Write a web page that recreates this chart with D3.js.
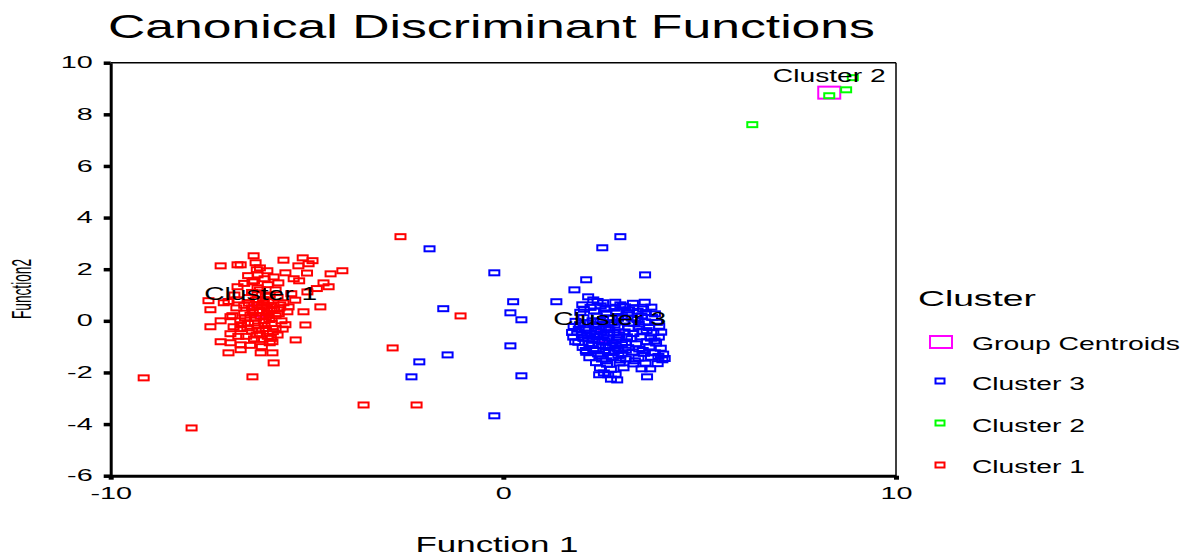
<!DOCTYPE html>
<html>
<head>
<meta charset="utf-8">
<script src="https://cdn.jsdelivr.net/npm/d3@7"></script>
<style>
  body { margin: 0; background: #fff; }
  svg { display: block; font-family: "Liberation Sans", Arial, sans-serif; }
</style>
</head>
<body>
<div id="chart"></div>
<script>
// discriminant scores, [function 1, function 2]
const cluster1 = [
  [-9.16, -2.21], [-7.94, -4.15], [-2.62, 3.26], [-1.09, 0.19], [-2.82, -1.05], [-3.56, -3.26], [-2.21, -3.26],
  [-6.36, 2.52], [-6.31, 2.25], [-7.2, 2.13], [-6.77, 2.17], [-6.69, 2.17], [-5.11, 2.44], [-4.86, 2.33],
  [-5.22, 2.13], [-4.96, 2.21], [-6.28, 1.98], [-6.01, 1.94], [-5.55, 1.86], [-4.1, 1.94], [-4.4, 1.82],
  [-6.26, 1.78], [-6.08, 1.63], [-5.34, 1.63], [-5.73, 1.47], [-6.39, 1.51], [-4.58, 1.47], [-4.45, 1.32],
  [-4.99, 1.12], [-6.77, 1.32], [-6.26, 1.28], [-7.51, 0.78], [-7.12, 0.7], [-6.77, 0.81], [-7.46, 0.43],
  [-4.66, 0.54], [-5.09, 0.35], [-5.47, 0.54], [-7.46, -0.23], [-6.95, 0.16], [-6.87, -0.23], [-5.04, -0.16],
  [-5.29, -0.74], [-7.2, -0.81], [-6.95, -0.85], [-6.69, -0.93], [-5.88, -0.81], [-7.0, -1.24], [-6.69, -1.12],
  [-6.18, -1.24], [-5.88, -1.24], [-5.85, -1.63], [-6.39, -2.17],
  [-6.5, 0.9], [-6.3, 0.8], [-6.1, 0.7], [-5.9, 0.6], [-5.7, 0.5], [-6.4, 0.5], [-6.2, 0.4], [-6.0, 0.3],
  [-5.8, 0.2], [-6.6, 0.3], [-6.3, 0.1], [-6.1, 0.0], [-5.9, -0.1], [-6.5, -0.1], [-6.7, -0.3], [-6.4, -0.4],
  [-6.2, -0.5], [-6.0, -0.6], [-5.8, -0.3], [-6.6, 0.6], [-6.8, 0.5], [-6.9, 0.2], [-6.7, 0.0], [-6.4, 1.1],
  [-6.2, 1.2], [-5.95, 1.0], [-5.75, 0.9], [-5.6, 0.7], [-5.5, 0.35], [-5.65, 0.0], [-6.05, -0.3], [-6.35, -0.7],
  [-6.55, -0.6], [-6.75, -0.6], [-5.95, -0.85], [-6.15, -1.0], [-6.45, -0.95], [-6.0, 1.4], [-6.35, 1.55],
  [-5.8, 1.2], [-5.4, 1.05], [-5.3, 0.8], [-5.9, 0.4], [-6.15, 0.55], [-6.05, 0.15], [-6.25, -0.2], [-5.75, -0.55],
  [-5.55, -0.15], [-7.0, 0.75], [-6.85, 1.0], [-6.95, -0.5], [-7.2, 0.0], [-6.6, 1.45], [-6.5, 1.75], [-6.2, 2.05],
  [-5.2, 1.55], [-5.0, 1.85], [-4.75, 1.25], [-5.6, 2.35], [-5.85, 1.7],
  [-6.12, 0.82], [-5.98, 0.74], [-5.84, 0.45], [-6.27, 0.63], [-6.44, 0.22], [-6.18, 0.18], [-5.96, 0.05],
  [-6.33, -0.08], [-6.08, -0.18], [-5.87, -0.42], [-6.23, -0.36], [-6.52, -0.27], [-6.02, 0.48], [-5.72, 0.28],
  [-6.38, 0.36], [-6.58, 0.12], [-6.15, -0.72], [-5.92, -0.68], [-6.28, -0.55], [-5.68, 0.62], [-6.48, 0.68],
  [-5.62, -0.32], [-6.68, -0.15], [-6.05, 0.95], [-6.26, 1.02]
];
const cluster2 = [[6.34, 7.6], [8.3, 8.72], [8.73, 8.95], [8.9, 9.42]];
const cluster3 = [
  [-1.88, 2.79], [-1.53, 0.47], [-0.23, 1.86], [0.25, 0.74], [0.18, 0.31], [0.46, 0.04], [-1.42, -1.32],
  [-2.14, -1.59], [-2.34, -2.17], [0.18, -0.97], [0.46, -2.13], [-0.23, -3.68], [1.35, 0.74], [1.81, 1.2],
  [2.11, 1.59], [2.52, 2.83], [2.98, 3.26], [3.61, 1.78],
  [2.16, 0.93], [2.29, 0.81], [2.01, 0.62], [2.54, 0.7], [2.98, 0.62], [3.1, 0.54], [4.05, -1.51], [3.74, -1.86],
  [3.66, -2.17], [2.9, -2.29], [2.67, -2.09], [2.44, -2.09],
  [2.22, 0.52], [2.48, 0.58], [2.83, 0.49], [3.04, 0.57], [3.31, 0.51], [3.56, 0.46], [3.77, 0.53],
  [1.96, 0.33], [2.31, 0.38], [2.62, 0.31], [2.88, 0.36], [3.17, 0.29], [3.42, 0.37], [3.63, 0.32], [3.86, 0.27],
  [2.04, 0.12], [2.38, 0.18], [2.71, 0.1], [3.02, 0.16], [3.27, 0.11], [3.52, 0.19], [3.79, 0.13],
  [1.84, -0.02], [2.16, -0.08], [2.47, -0.03], [2.76, -0.07], [3.06, -0.01], [3.33, -0.09], [3.61, -0.04], [3.91, -0.06],
  [1.79, -0.22], [2.08, -0.28], [2.36, -0.21], [2.61, -0.27], [2.92, -0.24], [3.19, -0.29], [3.46, -0.23], [3.71, -0.26], [3.97, -0.21],
  [1.88, -0.44], [2.21, -0.48], [2.49, -0.42], [2.81, -0.47], [3.09, -0.43], [3.31, -0.49], [3.54, -0.41], [3.82, -0.46], [4.02, -0.44],
  [1.78, -0.63], [2.04, -0.68], [2.37, -0.61], [2.66, -0.66], [2.94, -0.64], [3.26, -0.69], [3.49, -0.62], [3.76, -0.67], [3.96, -0.63],
  [1.91, -0.83], [2.19, -0.88], [2.52, -0.82], [2.79, -0.87], [3.11, -0.84], [3.38, -0.89], [3.66, -0.81], [3.89, -0.86],
  [2.02, -1.03], [2.29, -1.08], [2.61, -1.02], [2.91, -1.07], [3.18, -1.04], [3.46, -1.09], [3.72, -1.01], [4.01, -1.06],
  [2.11, -1.22], [2.41, -1.28], [2.69, -1.23], [3.01, -1.27], [3.29, -1.21], [3.58, -1.26], [3.86, -1.24], [4.07, -1.29],
  [2.19, -1.43], [2.51, -1.48], [2.79, -1.42], [3.12, -1.47], [3.44, -1.44], [3.76, -1.41], [4.11, -1.46],
  [2.36, -1.62], [2.64, -1.68], [2.96, -1.63], [3.31, -1.67], [3.62, -1.64], [3.93, -1.66],
  [2.46, -1.83], [2.74, -1.88], [3.06, -1.82], [3.52, -1.86], [2.56, -2.02], [2.86, -2.07], [2.74, -2.26],
  [2.4, 0.75], [2.85, 0.72], [3.3, 0.68], [3.6, 0.72], [2.3, -0.15], [2.55, -0.55], [2.7, -0.35], [2.45, -0.75],
  [2.85, -0.95], [2.6, -1.15], [2.25, -0.95], [2.15, -0.6], [1.95, -0.15], [2.0, -0.55],
  [2.12, -0.35], [2.42, -0.32], [2.57, -0.12], [2.83, -0.16], [2.33, -0.52], [2.65, -0.48], [2.95, -0.55],
  [2.27, -0.72], [2.58, -0.78], [2.88, -0.74], [3.15, -0.62], [2.42, -0.95], [2.72, -0.98], [3.02, -0.92],
  [2.35, -1.15], [2.82, -1.18], [3.12, -1.14], [2.48, -1.36], [2.93, -1.34], [2.62, -1.55], [2.98, -1.52],
  [1.92, -0.32], [1.83, -0.81], [2.05, 0.45], [2.6, 0.45], [3.2, 0.42], [3.45, -0.12], [3.65, -0.38],
  [3.85, -0.78], [3.55, -1.15], [3.95, -1.38], [1.75, -0.45], [2.1, -1.15], [3.35, -1.55], [2.27, 0.0],
  [2.54, 0.05], [2.92, 0.1], [3.42, 0.05]
];
const centroidNames = ["Cluster 1", "Cluster 3", "Cluster 2"];
const centroidX = [-6.18, 2.71, 8.3];
const centroidY = [0.39, -0.58, 8.84];
const xTicks = [-10, 0, 10];
const yTicks = [-6, -4, -2, 0, 2, 4, 6, 8, 10];
const legendNames = ["Group Centroids", "Cluster 3", "Cluster 2", "Cluster 1"];
const legendColors = ["#ff00ff", "#0000ff", "#00ff00", "#ff0000"];

const width = 1188, height = 556;
const svg = d3.select("#chart").append("svg").attr("width", width).attr("height", height);

const x = d3.scaleLinear().domain([-10, 10]).range([110.7, 896]);
const y = d3.scaleLinear().domain([-6, 10]).range([475.7, 62.7]);

// the original is stretched sideways, so text is scaled around its anchor
function stretch(sel, k) {
  sel.each(function () {
    const t = d3.select(this);
    const ax = +t.attr("x") || 0;
    t.attr("transform", `translate(${ax},0) scale(${k},1) translate(${-ax},0)`);
  });
}
function fitWidth(sel, w) {
  sel.each(function () {
    const len = this.getComputedTextLength();
    stretch(d3.select(this), w / len);
  });
}

// title
svg.append("text")
  .attr("x", 108).attr("y", 38)
  .style("font-size", "33px")
  .text("Canonical Discriminant Functions")
  .call(fitWidth, 767);

// frame: thin top/right, heavy axes
svg.append("line").attr("x1", x(-10)).attr("x2", x(10)).attr("y1", y(10)).attr("y2", y(10))
  .attr("stroke", "#000").attr("stroke-width", 1.5);
svg.append("line").attr("x1", x(10)).attr("x2", x(10)).attr("y1", y(10)).attr("y2", y(-6))
  .attr("stroke", "#000").attr("stroke-width", 1.5);

const plainNum = d => String(d);
const yAxis = svg.append("g")
  .attr("transform", `translate(${x(-10)},0)`)
  .call(d3.axisLeft(y).tickValues(yTicks).tickFormat(plainNum).tickSize(7).tickSizeOuter(0).tickPadding(11));
const xAxis = svg.append("g")
  .attr("transform", `translate(0,${y(-6)})`)
  .call(d3.axisBottom(x).tickValues(xTicks).tickFormat(plainNum).tickSize(4).tickSizeOuter(0).tickPadding(8));

[xAxis, yAxis].forEach(g => {
  g.select(".domain").attr("stroke-width", 3);
  g.selectAll(".tick line").attr("stroke-width", 3.5);
  g.selectAll(".tick text").attr("fill", "#000").style("font-size", "16px").call(stretch, 1.8);
});
xAxis.selectAll(".tick line").attr("stroke-width", 5);

// y title is squeezed along its length in the original
const yTitle = svg.append("text")
  .attr("x", 0).attr("y", 0)
  .attr("text-anchor", "middle")
  .style("font-size", "27px")
  .text("Function2");
const yLen = yTitle.node().getComputedTextLength();
yTitle.attr("transform", `translate(31,289) rotate(-90) scale(${60 / yLen},1)`);

svg.append("text")
  .attr("x", 497).attr("y", 552)
  .attr("text-anchor", "middle")
  .style("font-size", "22px")
  .text("Function 1")
  .call(fitWidth, 163);

// group centroids under the cases
const plot = svg.append("g");
plot.selectAll("rect.centroid")
  .data(centroidX.map((v, i) => [v, centroidY[i]]))
  .join("rect")
  .attr("class", "centroid")
  .attr("x", d => x(d[0]) - 11).attr("y", d => y(d[1]) - 6)
  .attr("width", 22).attr("height", 12)
  .attr("fill", "none").attr("stroke", "#ff00ff").attr("stroke-width", 2);

const groups = [
  { pts: cluster1, color: "#ff0000" },
  { pts: cluster3, color: "#0000ff" },
  { pts: cluster2, color: "#00ff00" }
];
groups.forEach(gr => {
  plot.append("g").selectAll("rect")
    .data(gr.pts)
    .join("rect")
    .attr("x", d => x(d[0]) - 5).attr("y", d => y(d[1]) - 2.5)
    .attr("width", 10).attr("height", 5)
    .attr("fill", "none").attr("stroke", gr.color).attr("stroke-width", 2);
});

plot.selectAll("text.clabel")
  .data(centroidNames)
  .join("text")
  .attr("class", "clabel")
  .attr("x", (d, i) => x(centroidX[i]))
  .attr("y", (d, i) => y(centroidY[i]) - 11)
  .attr("text-anchor", "middle")
  .style("font-size", "18px")
  .text(d => d)
  .call(fitWidth, 113);

// legend
const legend = svg.append("g");
legend.append("text").attr("x", 918).attr("y", 306).style("font-size", "22px").text("Cluster").call(fitWidth, 118);
const rowY = [342, 381, 423, 465];
const labelY = [350, 390, 432, 473];
legendNames.forEach((name, i) => {
  const big = i === 0;
  legend.append("rect")
    .attr("x", big ? 930 : 935.5).attr("y", rowY[i] - (big ? 6 : 2.5))
    .attr("width", big ? 22 : 9).attr("height", big ? 12 : 5)
    .attr("fill", "none").attr("stroke", legendColors[i]).attr("stroke-width", 2);
  legend.append("text")
    .attr("x", 972).attr("y", labelY[i])
    .style("font-size", "18px")
    .text(name)
    .call(fitWidth, big ? 208 : 113);
});
</script>
</body>
</html>
